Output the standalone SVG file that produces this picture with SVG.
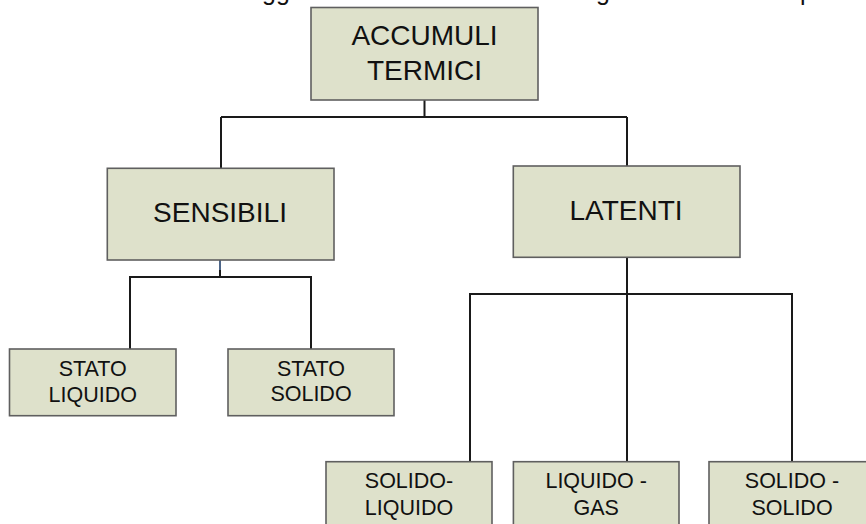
<svg xmlns="http://www.w3.org/2000/svg" width="866" height="524" viewBox="0 0 866 524">
<style>
.box{fill:#dee1cb;stroke:#5f5f5f;stroke-width:1.6}
.lbl{font-family:"Liberation Sans",Arial,sans-serif;fill:#111;text-anchor:middle}
.big{font-size:28px}
.small{font-size:21.5px}
.cut{font-family:"Liberation Sans",Arial,sans-serif;font-size:25px;fill:#111}
.con{fill:none;stroke:#1a1a1a;stroke-width:2}
</style>
<rect width="866" height="524" fill="#ffffff"/>
<g id="cut-text">
<text class="cut" x="262" y="0">gg</text>
<text class="cut" x="596" y="0">g</text>
<text class="cut" x="800" y="0">p</text>
</g>
<g id="connectors">
<path class="con" d="M424.5 100 V117 M221 117 H627 M221 117 V168 M627 117 V166"/>
<path class="con" d="M220 270 V277 M130 349 V277 H311 V349"/>
<path d="M220 260 V270" fill="none" stroke="#4d6689" stroke-width="2"/>
<path class="con" d="M627 257 V294" stroke-width="3"/>
<path class="con" d="M470 462 V294 H792 V462 M627 294 V462"/>
</g>
<g id="n-accumuli">
<rect class="box" x="311" y="7.5" width="227" height="92.5"/>
<text class="lbl big" x="424.5" y="45">ACCUMULI</text>
<text class="lbl big" x="424.5" y="79.5">TERMICI</text>
</g>
<g id="n-sensibili">
<rect class="box" x="107.3" y="168.3" width="226.7" height="91.7"/>
<text class="lbl big" x="220" y="222.3">SENSIBILI</text>
</g>
<g id="n-latenti">
<rect class="box" x="513.3" y="166" width="226.7" height="91.3"/>
<text class="lbl big" x="626" y="220">LATENTI</text>
</g>
<g id="n-stato-liquido">
<rect class="box" x="9.5" y="349" width="166.5" height="66.7"/>
<text class="lbl small" x="92.7" y="375.7">STATO</text>
<text class="lbl small" x="92.7" y="401.7">LIQUIDO</text>
</g>
<g id="n-stato-solido">
<rect class="box" x="228" y="349" width="166" height="66.7"/>
<text class="lbl small" x="311" y="375.7">STATO</text>
<text class="lbl small" x="311" y="400.7">SOLIDO</text>
</g>
<g id="n-solido-liquido">
<rect class="box" x="326" y="461.7" width="166" height="70"/>
<text class="lbl small" x="409" y="488.3">SOLIDO-</text>
<text class="lbl small" x="409" y="515">LIQUIDO</text>
</g>
<g id="n-liquido-gas">
<rect class="box" x="513.4" y="461.7" width="165.6" height="70"/>
<text class="lbl small" x="596.2" y="488.3">LIQUIDO -</text>
<text class="lbl small" x="596.2" y="515">GAS</text>
</g>
<g id="n-solido-solido">
<rect class="box" x="709" y="461.7" width="166" height="70"/>
<text class="lbl small" x="792" y="488.3">SOLIDO -</text>
<text class="lbl small" x="792" y="515">SOLIDO</text>
</g>
</svg>
